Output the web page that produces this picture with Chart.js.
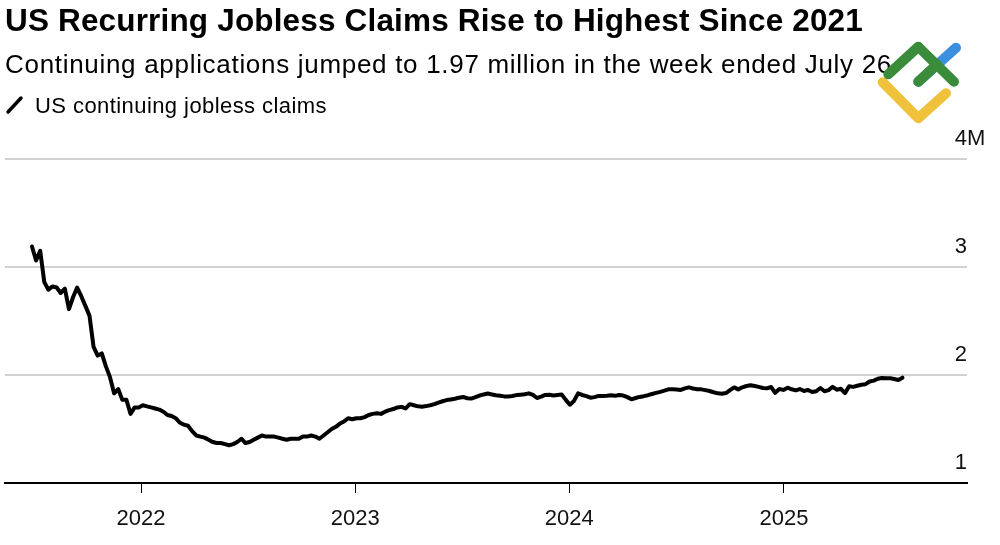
<!DOCTYPE html>
<html>
<head>
<meta charset="utf-8">
<script src="https://cdn.jsdelivr.net/npm/chart.js@4.4.1/dist/chart.umd.min.js"></script>
<style>
  html, body { margin: 0; padding: 0; background: #fff; }
  #wrap { position: relative; width: 1000px; height: 545px; overflow: hidden;
          font-family: "Liberation Sans", Arial, Helvetica, sans-serif; color: #000; }
  .t { position: absolute; left: 5px; white-space: nowrap; line-height: 1; margin: 0; }
  #title { top: 5px; font-size: 31.5px; font-weight: bold; }
  #sub { top: 51px; font-size: 26px; }
  #leg { top: 95px; left: 35px; font-size: 22px; }
  #legicon { position: absolute; left: 0; top: 0; }
  #chart { position: absolute; left: 0; top: 0; }
  #logo { position: absolute; left: 0; top: 0; pointer-events: none; }
</style>
</head>
<body>
<div id="wrap">
  <canvas id="chart" width="1000" height="545"></canvas>
  <div class="t" id="title">US Recurring Jobless Claims Rise to Highest Since 2021</div>
  <div class="t" id="sub">Continuing applications jumped to 1.97 million in the week ended July 26</div>
  <svg id="legicon" width="40" height="130"><line x1="8" y1="112" x2="21" y2="98" stroke="#000" stroke-width="3.5" stroke-linecap="round"/></svg>
  <div class="t" id="leg">US continuing jobless claims</div>
  <svg id="logo" width="1000" height="545">
    <polyline points="882.7,82.3 918.3,118.3 946,93.3" fill="none" stroke="#f0c23b" stroke-width="10" stroke-linecap="round" stroke-linejoin="round"/>
    <line x1="918.3" y1="81.7" x2="956" y2="47.7" stroke="#3a8fdf" stroke-width="10" stroke-linecap="round"/>
    <line x1="918.3" y1="81.7" x2="937" y2="64.5" stroke="#3b8c3a" stroke-width="10" stroke-linecap="round"/>
    <polyline points="888.3,74.3 918.3,46.7 954,81.7" fill="none" stroke="#3b8c3a" stroke-width="10" stroke-linecap="round" stroke-linejoin="round"/>
  </svg>
</div>
<script>
// ---- data (US continuing jobless claims, millions, weekly) ----
const firstWeekDate = '2021-06-29';
const claimsM = [
  3.19, 3.06, 3.15, 2.86, 2.79, 2.82, 2.81, 2.76, 2.80, 2.61,
  2.72, 2.81, 2.73, 2.64, 2.55, 2.26, 2.18, 2.20, 2.08, 1.98,
  1.83, 1.87, 1.77, 1.77, 1.64, 1.70, 1.70, 1.72, 1.71, 1.70,
  1.69, 1.68, 1.66, 1.63, 1.62, 1.60, 1.56, 1.54, 1.53, 1.48,
  1.44, 1.43, 1.42, 1.40, 1.38, 1.37, 1.37, 1.36, 1.35, 1.36,
  1.38, 1.41, 1.37, 1.38, 1.40, 1.42, 1.44, 1.43, 1.43, 1.43,
  1.42, 1.41, 1.40, 1.41, 1.41, 1.41, 1.43, 1.43, 1.44, 1.43,
  1.41, 1.44, 1.47, 1.50, 1.52, 1.55, 1.57, 1.60, 1.59, 1.60,
  1.60, 1.61, 1.63, 1.64, 1.645, 1.64, 1.66, 1.675, 1.685, 1.70,
  1.705, 1.69, 1.73, 1.72, 1.71, 1.707, 1.712, 1.72, 1.73, 1.745,
  1.757, 1.768, 1.774, 1.78, 1.79, 1.797, 1.785, 1.782, 1.795, 1.81,
  1.82, 1.828, 1.82, 1.812, 1.808, 1.802, 1.802, 1.805, 1.814, 1.818,
  1.822, 1.83, 1.815, 1.787, 1.80, 1.815, 1.817, 1.81, 1.815, 1.82,
  1.77, 1.725, 1.76, 1.83, 1.815, 1.805, 1.79, 1.795, 1.806, 1.806,
  1.808, 1.812, 1.807, 1.815, 1.81, 1.795, 1.775, 1.787, 1.797, 1.804,
  1.813, 1.824, 1.834, 1.844, 1.855, 1.867, 1.867, 1.866, 1.862, 1.876,
  1.886, 1.875, 1.868, 1.867, 1.86, 1.852, 1.84, 1.83, 1.826, 1.833,
  1.86, 1.885, 1.867, 1.886, 1.898, 1.905, 1.898, 1.89, 1.88, 1.877,
  1.889, 1.835, 1.870, 1.862, 1.882, 1.868, 1.858, 1.870, 1.852, 1.862,
  1.842, 1.850, 1.880, 1.850, 1.860, 1.890, 1.864, 1.872, 1.832, 1.895,
  1.890, 1.900, 1.910, 1.915, 1.940, 1.948, 1.965, 1.972, 1.969, 1.969,
  1.963, 1.954, 1.975
];
const seriesLabel = 'US continuing jobless claims';
const xTickYears = [2022, 2023, 2024, 2025];
const xAxisStart = '2021-05-14';
const xAxisEnd = '2025-11-09';
const yTickValues = [1, 2, 3, 4];
const yTickLabels = ['1', '2', '3', '4'];
const yUnitSuffix = 'M';
const yMin = 1, yMax = 4;

const DAY = 86400000;
const t0 = Date.parse(firstWeekDate + 'T00:00:00Z');
const points = claimsM.map((v, i) => ({ x: t0 + i * 7 * DAY, y: v }));
const FONT = '"Liberation Sans", Arial, Helvetica, sans-serif';

// fit header texts to the reference widths
function fit(id, target) {
  const el = document.getElementById(id);
  el.style.letterSpacing = '0px';
  const w = el.getBoundingClientRect().width;
  const n = el.textContent.length;
  let ls = (target - w) / n;
  ls = Math.max(-1.5, Math.min(1.5, ls));
  el.style.letterSpacing = ls + 'px';
}
fit('title', 858);
fit('sub', 887);
fit('leg', 292);

const yLabelPlugin = {
  id: 'yLabels',
  afterDraw(chart) {
    const ctx = chart.ctx, ys = chart.scales.y, right = chart.chartArea.right;
    ctx.save();
    ctx.font = '22px ' + FONT;
    ctx.fillStyle = '#111';
    ctx.textBaseline = 'alphabetic';
    yTickValues.forEach((v, i) => {
      const py = ys.getPixelForValue(v) - 14.5;
      ctx.textAlign = 'right';
      ctx.fillText(yTickLabels[i], right, py);
      if (i === yTickValues.length - 1) {
        ctx.textAlign = 'left';
        ctx.fillText(yUnitSuffix, right, py);
      }
    });
    ctx.restore();
  }
};

new Chart(document.getElementById('chart'), {
  type: 'line',
  data: {
    datasets: [{
      label: seriesLabel,
      data: points,
      borderColor: '#000',
      borderWidth: 4,
      pointRadius: 0,
      tension: 0,
      fill: false,
      borderJoinStyle: 'round',
      borderCapStyle: 'round'
    }]
  },
  options: {
    responsive: false,
    animation: false,
    layout: { padding: { top: 159, left: 5, right: 33, bottom: 0 } },
    plugins: { legend: { display: false }, tooltip: { enabled: false }, title: { display: false } },
    scales: {
      x: {
        type: 'linear',
        min: Date.parse(xAxisStart + 'T00:00:00Z'),
        max: Date.parse(xAxisEnd + 'T00:00:00Z'),
        afterBuildTicks: s => { s.ticks = xTickYears.map(y => ({ value: Date.UTC(y, 0, 1) })); },
        afterFit: s => { s.height = 62; },
        ticks: {
          callback: v => String(new Date(v).getUTCFullYear()),
          font: { size: 22, family: FONT },
          color: '#111',
          padding: 13,
          maxRotation: 0,
          autoSkip: false
        },
        grid: { drawOnChartArea: false, drawTicks: true, tickLength: 10, color: '#000', lineWidth: 1 },
        border: { display: true, color: '#000', width: 2 }
      },
      y: {
        position: 'right',
        min: yMin,
        max: yMax,
        afterBuildTicks: s => { s.ticks = yTickValues.map(v => ({ value: v })); },
        afterFit: s => { s.width = 0; },
        ticks: { display: false },
        grid: {
          color: c => (c.tick && c.tick.value === yMin) ? 'rgba(0,0,0,0)' : '#d2d2d2',
          lineWidth: 2,
          drawTicks: false
        },
        border: { display: false }
      }
    }
  },
  plugins: [yLabelPlugin]
});
</script>
</body>
</html>
